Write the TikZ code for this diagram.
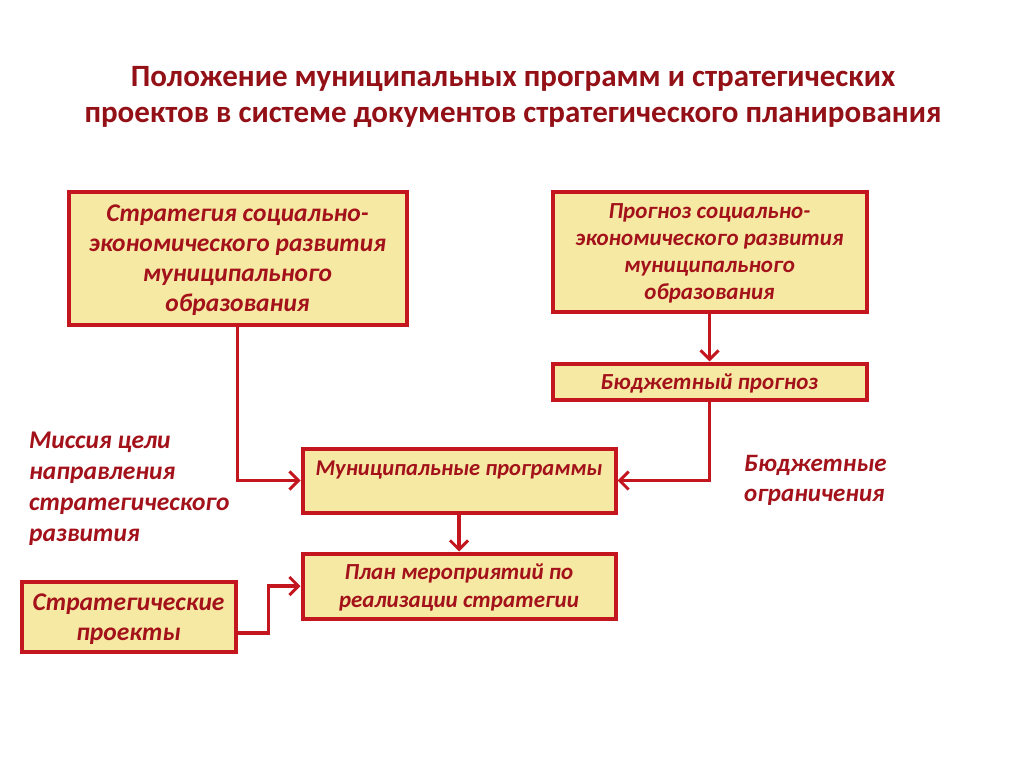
\documentclass[tikz,border=0pt]{standalone}
\usepackage{fontspec}
\setmainfont{Carlito}
\usetikzlibrary{arrows.meta}
\definecolor{frame}{HTML}{C3161F}
\definecolor{ink}{HTML}{A3121A}
\definecolor{paper}{HTML}{F6E9A4}
\begin{document}
\begin{tikzpicture}[x=1pt,y=-1pt,
    box/.style={draw=frame,fill=paper,line width=4pt,align=center,
      text=ink,font=\bfseries\itshape,inner sep=0pt,text depth=0pt},
    conn/.style={draw=frame,line width=3.2pt,
      -{Straight Barb[length=9pt,width=18pt,line width=3pt]}},
    note/.style={align=left,text=ink,font=\bfseries\itshape,inner sep=0pt}]
    \useasboundingbox[fill=white] (0,0) rectangle (1024,767);
    % title
    \node [text=ink!90!black,font=\bfseries\fontsize{31}{36}\selectfont,align=center] (title) at (513,97)
      {Положение муниципальных программ и стратегических\\проектов в системе документов стратегического планирования};
    % boxes
    \node [box,minimum width=338pt,minimum height=132pt,font=\bfseries\itshape\fontsize{25.5}{30}\selectfont] (strat) at (237.5,258.5)
      {Стратегия социально-\\экономического развития\\муниципального\\образования};
    \node [box,minimum width=314pt,minimum height=119pt,font=\bfseries\itshape\fontsize{23}{27}\selectfont] (progn) at (709.5,252)
      {Прогноз социально-\\экономического развития\\муниципального\\образования};
    \node [box,minimum width=314pt,minimum height=36pt,font=\bfseries\itshape\fontsize{23}{27}\selectfont] (budg) at (709.5,381.5)
      {Бюджетный прогноз};
    \node [box,minimum width=313pt,minimum height=64pt,font=\bfseries\itshape\fontsize{22.5}{24}\selectfont] (mprog) at (459,480.5)
      {Муниципальные программы\\\strut};
    \node [box,minimum width=313pt,minimum height=65pt,font=\bfseries\itshape\fontsize{23}{28}\selectfont] (plan) at (459,586)
      {План мероприятий по\\реализации стратегии};
    \node [box,minimum width=214pt,minimum height=70pt,font=\bfseries\itshape\fontsize{25.5}{30}\selectfont] (sproj) at (128.5,617)
      {Стратегические\\проекты};
    % free texts
    \node [note,anchor=west,font=\bfseries\itshape\fontsize{25.5}{31}\selectfont] (miss) at (29,488.5)
      {Миссия цели\\направления\\стратегического\\развития};
    \node [note,anchor=west,font=\bfseries\itshape\fontsize{25}{30}\selectfont] (limit) at (744,480)
      {Бюджетные\\ограничения};
    % connectors
    \draw [conn] (strat.south) |- (mprog.west);
    \draw [conn] (progn.south) -- (budg.north);
    \draw [conn] (budg.south) |- (mprog.east);
    \draw [conn] (mprog.south) -- (plan.north);
    \draw [conn] ([yshift=-16pt]sproj.east) -- ++(31,0) |- (plan.west);
\end{tikzpicture}
\end{document}
